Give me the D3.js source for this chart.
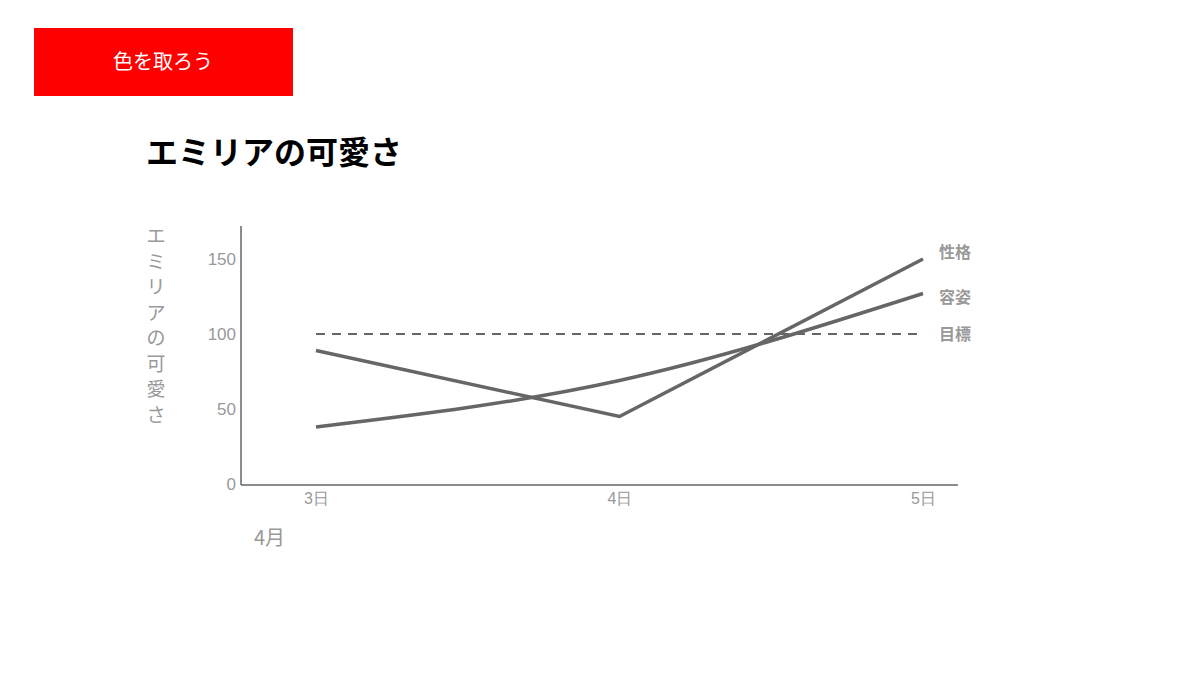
<!DOCTYPE html>
<html><head><meta charset="utf-8">
<script src="https://cdn.jsdelivr.net/npm/d3@7"></script>
<style>body{margin:0;background:#fff;}svg{display:block;font-family:"Noto Sans CJK JP","Noto Sans",sans-serif;}</style>
</head><body>
<svg id="c" width="1200" height="675"></svg>
<script>
const days = ["3日","4日","5日"];
const appearance = [38, 69, 127];   // 容姿
const personality = [89, 45, 150];  // 性格
const target = 100;                 // 目標
const yTicks = [0, 50, 100, 150];
const seriesNames = ["性格","容姿","目標"];
const title = "エミリアの可愛さ";
const yLabel = "エミリアの可愛さ";
const monthLabel = "4月";
const buttonLabel = "色を取ろう";

const svg = d3.select("#c");
const grey = "#666";
const light = "#999";

// button
svg.append("rect").attr("x",34).attr("y",28).attr("width",259).attr("height",68).attr("fill","#ff0000");
svg.append("text").attr("x",163).attr("y",69).attr("text-anchor","middle").attr("fill","#fff")
  .attr("font-size",20).text(buttonLabel);

// title
svg.append("text").attr("x",146).attr("y",164).attr("font-size",32).attr("font-weight","bold")
  .attr("fill","#000").text(title);

const x = d3.scalePoint().domain(days).range([316, 923]);
const y = d3.scaleLinear().domain([0, 150]).range([484, 259]);

// axes
const yAxis = d3.axisLeft(y).tickValues(yTicks).tickSize(0).tickPadding(5);
const gy = svg.append("g").attr("transform","translate(241,0)").call(yAxis);
gy.select(".domain").remove();
gy.selectAll("text").attr("fill",light).attr("font-size",17).attr("font-family","'Liberation Sans', Arial, sans-serif");
svg.append("line").attr("x1",241).attr("x2",241).attr("y1",226).attr("y2",485).attr("stroke",grey).attr("stroke-width",1.5);

const xAxis = d3.axisBottom(x).tickSize(0).tickPadding(8);
const gx = svg.append("g").attr("transform","translate(0,485)").call(xAxis);
gx.select(".domain").remove();
gx.selectAll("text").attr("fill",light).attr("font-size",16);
svg.append("line").attr("x1",241).attr("x2",958).attr("y1",485).attr("y2",485).attr("stroke",grey).attr("stroke-width",1.5);

// y label vertical
const yl = svg.append("text").attr("fill",light).attr("font-size",19).attr("text-anchor","middle");
yLabel.split("").forEach((ch,i)=>{
  yl.append("tspan").attr("x",156).attr("y",243 + i*25.5).text(ch);
});

// month label
svg.append("text").attr("x",254).attr("y",545).attr("fill",light).attr("font-size",20).text(monthLabel);

// target line
svg.append("line").attr("x1",x(days[0])).attr("x2",x(days[days.length-1]))
  .attr("y1",y(target)).attr("y2",y(target))
  .attr("stroke",grey).attr("stroke-width",2).attr("stroke-dasharray","9,7");

// series
const lineStraight = d3.line().x((d,i)=>x(days[i])).y(d=>y(d));
const lineCurve = d3.line().x((d,i)=>x(days[i])).y(d=>y(d)).curve(d3.curveMonotoneX);
svg.append("path").datum(personality).attr("d",lineStraight).attr("fill","none")
  .attr("stroke",grey).attr("stroke-width",3.5);
svg.append("path").datum(appearance).attr("d",lineCurve).attr("fill","none")
  .attr("stroke",grey).attr("stroke-width",3.5);

// end labels
const labelY = [252, 297, 334];
seriesNames.forEach((n,i)=>{
  svg.append("text").attr("x",939).attr("y",labelY[i]).attr("dy","0.35em")
    .attr("fill",light).attr("font-size",16).attr("font-weight","bold").text(n);
});
</script>
</body></html>
